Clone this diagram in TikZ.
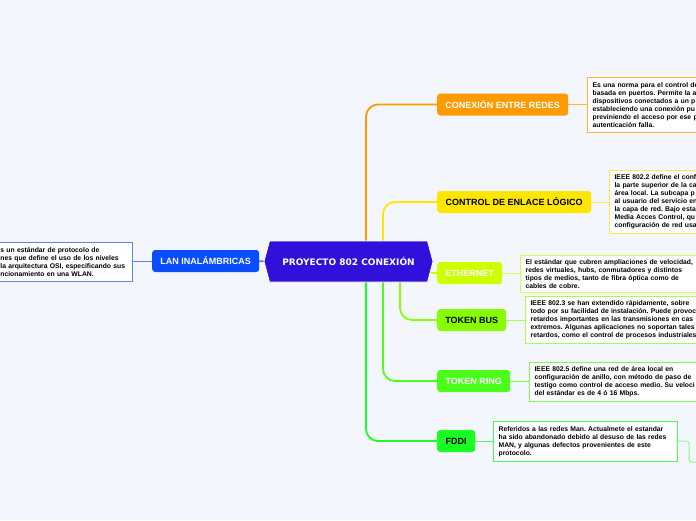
\documentclass[tikz,border=0pt]{standalone}
\usepackage{fontspec}
\setmainfont{Liberation Sans}
\newfontfamily\dejavu{DejaVu Sans}
\usetikzlibrary{shapes.symbols,backgrounds}
\definecolor{bg}{HTML}{F3F6FD}
\definecolor{cOrange}{HTML}{FF9A00}
\definecolor{cYellow}{HTML}{FFE600}
\definecolor{cLime}{HTML}{CCFF00}
\definecolor{cTbus}{HTML}{88FF00}
\definecolor{cTring}{HTML}{4CFF1A}
\definecolor{cFddi}{HTML}{1AFF22}
\definecolor{cBlue}{HTML}{0A4CFF}
\definecolor{cCentral}{HTML}{3110DB}
\definecolor{lOrange}{HTML}{FFB340}
\definecolor{lYellow}{HTML}{FFE94D}
\definecolor{lLime}{HTML}{D6FF4D}
\definecolor{lTbus}{HTML}{A6FF4D}
\definecolor{lTring}{HTML}{7AFF4D}
\definecolor{lFddi}{HTML}{4DFF55}
\definecolor{lBlue}{HTML}{5A88F0}
\frenchspacing
\begin{document}
\begin{tikzpicture}[x=1pt,y=-1pt,
  topic/.style={rounded corners=3pt, minimum height=22pt, inner xsep=0pt, inner ysep=0pt,
    font=\fontsize{9}{10}\selectfont\bfseries, anchor=west},
  desc/.style={draw, fill=white, line width=1.2pt, font=\fontsize{6.8}{8}\selectfont\bfseries\frenchspacing,
    align=left, inner xsep=5pt, inner ysep=0pt},
  mainline/.style={line width=1.8pt, rounded corners=12pt},
  subline/.style={line width=1pt}
]
\begin{pgfonlayer}{background}
\fill[bg] (0,0) rectangle (696,520);
\end{pgfonlayer}
\useasboundingbox (0,0) rectangle (696,520);
\clip (0,0) rectangle (696,520);

% central node
\node[signal, signal to=west and east, signal pointer angle=150, fill=cCentral, draw=white, line width=0.8pt,
  minimum width=169pt, minimum height=41pt, inner sep=0pt, text=white,
  font=\dejavu\fontsize{9}{10}\selectfont\bfseries] (cn) at (348.5,261.5) {PROYECTO 802 CONEXIÓN};

% topics
\node[topic, fill=cBlue, text=white, minimum width=107pt] (lan) at (152,261) {LAN INALÁMBRICAS};
\node[topic, fill=cOrange, text=white, minimum width=131pt] (cer) at (437,104.5) {CONEXIÓN ENTRE REDES};
\node[topic, fill=cYellow, text=black, minimum width=154pt] (cel) at (437,202) {CONTROL DE ENLACE LÓGICO};
\node[topic, fill=cLime, text=white, minimum width=65pt] (eth) at (437,273) {ETHERNET};
\node[topic, fill=cTbus, text=black, minimum width=69pt] (tbus) at (437,320) {TOKEN BUS};
\node[topic, fill=cTring, text=white, minimum width=73pt] (tring) at (437,381) {TOKEN RING};
\node[topic, fill=cFddi, text=black, minimum width=38pt] (fddi) at (437,441) {FDDI};

% descriptions
\node[desc, draw=lBlue, anchor=north east, inner xsep=1pt, text width=131pt, minimum height=39pt] (dl) at (133,242)
 {\mbox{s un estándar de protocolo de}\\\mbox{nes que define el uso de los niveles}\\\mbox{la arquitectura OSI, especificando sus}\\\mbox{ncionamiento en una WLAN.}};
\node[desc, draw=lOrange, anchor=north west, text width=130pt, minimum height=55pt] (d1) at (587,77)
 {Es una norma para el control de\\basada en puertos. Permite la a\\dispositivos conectados a un p\\estableciendo una conexión pu\\previniendo el acceso por ese p\\autenticación falla.};
\node[desc, draw=lYellow, anchor=north west, text width=110pt, minimum height=63pt] (d2) at (609,170)
 {IEEE 802.2 define el conf\\la parte superior de la ca\\área local. La subcapa p\\al usuario del servicio en\\la capa de red. Bajo esta\\Media Acces Control, qu\\configuración de red usa};
\node[desc, draw=lLime, anchor=north west, text width=190pt, minimum height=37pt] (d3) at (520,255)
 {El estándar que cubren ampliaciones de velocidad,\\redes virtuales, hubs, conmutadores y distintos\\tipos de medios, tanto de fibra óptica como de\\cables de cobre.};
\node[desc, draw=lTbus, anchor=north west, text width=190pt, minimum height=47pt] (d4) at (525,296)
 {IEEE 802.3 se han extendido rápidamente, sobre\\todo por su facilidad de instalación. Puede provoc\\retardos importantes en las transmisiones en cas\\extremos. Algunas aplicaciones no soportan tales\\retardos, como el control de procesos industriales};
\node[desc, draw=lTring, anchor=north west, text width=190pt, minimum height=39pt] (d5) at (529,362)
 {IEEE 802.5 define una red de área local en\\configuración de anillo, con método de paso de\\testigo como control de acceso medio. Su veloci\\del estándar es de 4 ó 16 Mbps.};
\node[desc, draw=lFddi, anchor=north west, text width=174pt, minimum height=40pt] (d6) at (493,421)
 {Referidos a las redes Man. Actualmete el estandar\\ha sido abandonado debido al desuso de las redes\\MAN, y algunas defectos provenientes de este\\protocolo.};

\coordinate (tail) at (700,462);

\begin{pgfonlayer}{background}
% main branches
\draw[mainline, cOrange] ([xshift=17.5pt]cn.center) |- (cer.west);
\draw[mainline, cYellow] ([xshift=34.5pt]cn.center) |- (cel.west);
\draw[mainline, cLime] (cn.center |- eth.west) -- (eth.west);
\draw[mainline, cTbus] ([xshift=51.5pt]cn.center) |- (tbus.west);
\draw[mainline, cTring] ([xshift=34.5pt]cn.center) |- (tring.west);
\draw[mainline, cFddi] ([xshift=17.5pt]cn.center) |- (fddi.west);
\draw[mainline, cBlue!70] (cn.center) -- (lan.center);
% sub branches
\draw[subline, lBlue] (lan.west) -- (dl.east |- lan.west);
\draw[subline, lOrange] (cer.east) -- (d1.west |- cer.east);
\draw[subline, lYellow] (cel.east) -- (d2.west |- cel.east);
\draw[subline, lLime] (eth.east) -- (d3.west |- eth.east);
\draw[subline, lTbus] (tbus.east) -- (d4.west |- tbus.east);
\draw[subline, lTring] (tring.east) -- (d5.west |- tring.east);
\draw[subline, lFddi] (fddi.east) -- (d6.west |- fddi.east);
\draw[subline, lFddi!70, rounded corners=3pt] (d6.east |- fddi.east) -| ([xshift=-11pt]tail) -- (tail);
\end{pgfonlayer}
\end{tikzpicture}
\end{document}
